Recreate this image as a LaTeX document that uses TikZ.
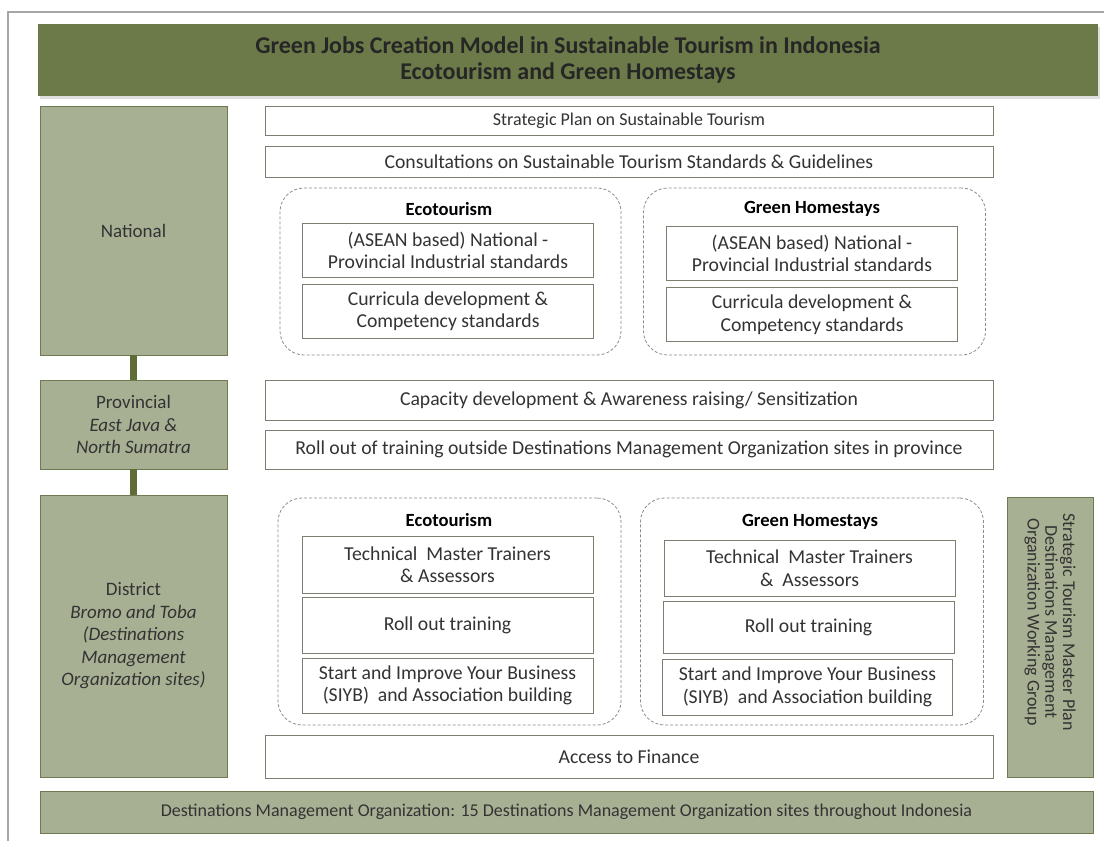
\documentclass[tikz,border=0pt]{standalone}
\usepackage{fontspec}
\setmainfont{Carlito}
\usetikzlibrary{shadows}
\definecolor{dkgreen}{HTML}{6B7A48}
\definecolor{ltgreen}{HTML}{A8B094}
\definecolor{lvlborder}{HTML}{6E7A50}
\definecolor{conncol}{HTML}{5F6C37}
\definecolor{boxborder}{HTML}{7C7F70}
\definecolor{dashcol}{HTML}{8C8C8C}
\definecolor{txt}{HTML}{333333}
\definecolor{framecol}{HTML}{A6A6A6}
\begin{document}
\begin{tikzpicture}[x=1pt,y=-1pt,
  every node/.style={inner sep=0pt, outer sep=0pt, text=txt},
  lvl/.style={draw=lvlborder, fill=ltgreen, line width=0.8pt, align=center, font=\fontsize{19}{22.5}\selectfont},
  wbox/.style={draw=boxborder, fill=white, line width=0.8pt, align=center, font=\fontsize{19.7}{22.5}\selectfont},
  grp/.style={draw=dashcol, line width=0.8pt, rounded corners=24pt, dash pattern=on 3pt off 2pt},
  head/.style={font=\bfseries\fontsize{18.6}{20}\selectfont, text=black},
  conn/.style={draw=conncol, line width=7pt},
]
\useasboundingbox (0,0) rectangle (1104,841);
\fill[white] (0,0) rectangle (1104,841);
\draw[framecol, line width=1.2pt] (8,841) -- (8,12) -- (1104,12);

% title
\node[fill=dkgreen, minimum width=1060pt, minimum height=72pt, align=center,
      drop shadow={opacity=0.25, shadow xshift=2pt, shadow yshift=-3pt},
      font=\bfseries\fontsize{24}{26}\selectfont, text=black!85] (title) at (568,60)
  {Green Jobs Creation Model in Sustainable Tourism in Indonesia\\Ecotourism and Green Homestays};

% levels
\node[lvl, minimum width=187pt, minimum height=249pt] (nat) at (133.5,230.5) {National};
\node[lvl, minimum width=187pt, minimum height=89pt] (prov) at (133.5,424.5) {Provincial\\\itshape East Java \&\\\itshape North Sumatra};
\node[lvl, minimum width=187pt, minimum height=282pt] (dist) at (133.5,636) {District\\\itshape Bromo and Toba\\\itshape (Destinations\\\itshape Management\\\itshape Organization sites)};
\draw[conn] (nat) -- (prov);
\draw[conn] (prov) -- (dist);

% right vertical box
\node[lvl, minimum width=86pt, minimum height=280pt] (sidebox) at (1050,637) {};
\node[rotate=-90, align=center, font=\fontsize{18}{17.8}\selectfont] (sidetext) at (1050,622)
  {Strategic Tourism Master Plan\\Destinations Management\\Organization Working Group};

% bottom bar
\node[lvl, minimum width=1053pt, minimum height=42pt, font=\fontsize{18}{20}\selectfont] (dmo) at (566.5,812)
  {Destinations Management Organization: 15 Destinations Management Organization sites throughout Indonesia};

% national white boxes
\node[wbox, minimum width=728pt, minimum height=29pt, font=\fontsize{18}{20}\selectfont] (sp) at (629,120.5) {Strategic Plan on Sustainable Tourism};
\node[wbox, minimum width=728pt, minimum height=31pt] (cons) at (629,161.5) {Consultations on Sustainable Tourism Standards \& Guidelines};

% national groups
\node[grp, minimum width=341pt, minimum height=167pt] (ngeco) at (450.5,271.5) {};
\node[head] (ngecoh) at (449,209) {Ecotourism};
\node[wbox, minimum width=291pt, minimum height=54pt] (necoA) at (448,250.5) {(ASEAN based) National -\\Provincial Industrial standards};
\node[wbox, minimum width=291pt, minimum height=54pt] (necoB) at (448,311) {Curricula development \&\\Competency standards};

\node[grp, minimum width=342pt, minimum height=167pt] (nggh) at (814.5,271.5) {};
\node[head] (ngghh) at (812,209) {Green Homestays};
\node[wbox, minimum width=291pt, minimum height=54pt] (nghA) at (812,253.5) {(ASEAN based) National -\\Provincial Industrial standards};
\node[wbox, minimum width=291pt, minimum height=54pt] (nghB) at (812,314.5) {Curricula development \&\\Competency standards};

% provincial boxes
\node[wbox, minimum width=728pt, minimum height=40pt] (cap) at (629,400) {Capacity development \& Awareness raising/ Sensitization};
\node[wbox, minimum width=728pt, minimum height=39pt] (roll) at (629,449.5) {Roll out of training outside Destinations Management Organization sites in province};

% district groups
\node[grp, minimum width=343pt, minimum height=227pt] (dgeco) at (449.5,611.5) {};
\node[head] (dgecoh) at (449,520) {Ecotourism};
\node[wbox, minimum width=291pt, minimum height=57pt] (decoA) at (447.5,564.5) {Technical\ \ Master Trainers\\\& Assessors};
\node[wbox, minimum width=291pt, minimum height=56pt] (decoB) at (447.5,625) {Roll out training};
\node[wbox, minimum width=291pt, minimum height=55pt] (decoC) at (447.5,685.5) {Start and Improve Your Business\\(SIYB)\ \ and Association building};

\node[grp, minimum width=343pt, minimum height=227pt] (dggh) at (812,611.5) {};
\node[head] (dgghh) at (810,522) {Green Homestays};
\node[wbox, minimum width=291pt, minimum height=56pt] (dghA) at (809.5,568) {Technical\ \ Master Trainers\\\&\ \ Assessors};
\node[wbox, minimum width=291pt, minimum height=52pt] (dghB) at (808.5,627.5) {Roll out training};
\node[wbox, minimum width=290pt, minimum height=56pt] (dghC) at (807.5,687) {Start and Improve Your Business\\(SIYB)\ \ and Association building};

\node[wbox, minimum width=728pt, minimum height=43pt] (fin) at (629,756.5) {Access to Finance};
\end{tikzpicture}
\end{document}
